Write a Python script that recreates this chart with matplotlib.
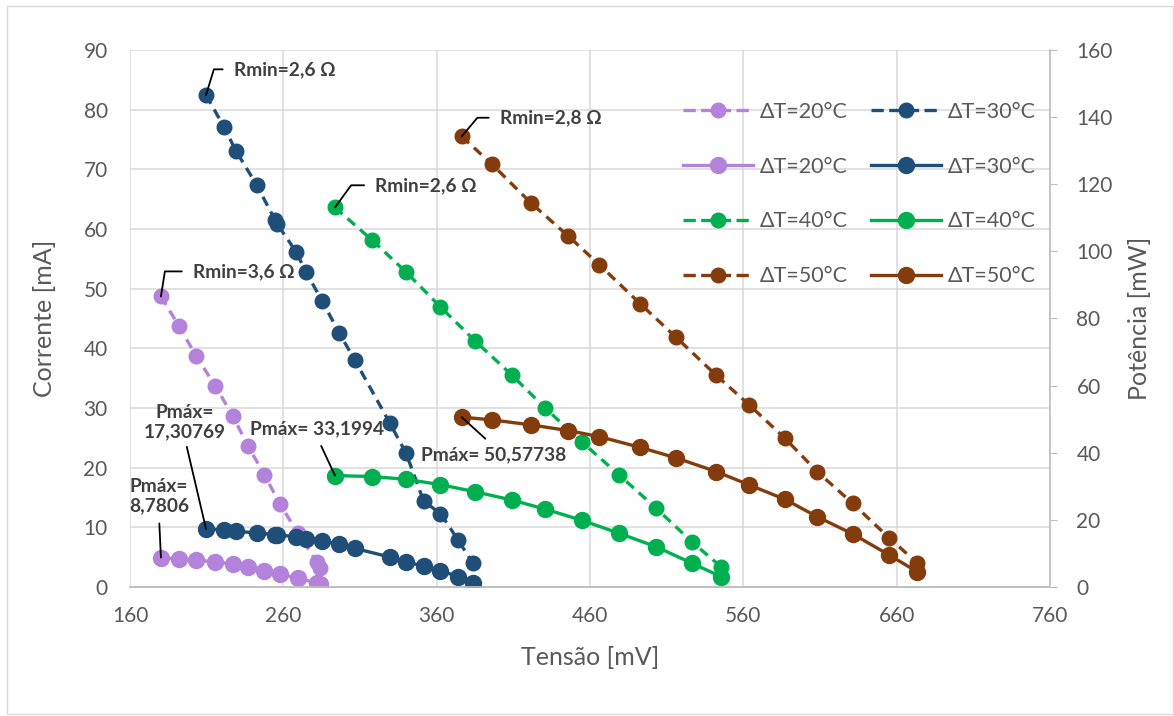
"""
Curvas corrente x tensão e potência x tensão para cada diferença de temperatura.
"""

import matplotlib.pyplot as plt
from matplotlib.lines import Line2D
from matplotlib.patches import Rectangle

plt.rcParams["font.family"] = ["Lato", "DejaVu Sans"]

# tensão [mV], corrente [mA], potência [mW]
v_20 = [180.2, 192.0, 203.2, 215.6, 227.0, 237.0, 247.7, 257.8, 269.6, 281.8, 284.2]
i_20 = [48.7, 43.7, 38.7, 33.7, 28.7, 23.6, 18.8, 13.9, 9.0, 4.2, 3.1]
p_20 = [8.78, 8.3, 8.0, 7.5, 6.8, 6.1, 4.9, 3.8, 2.6, 1.2, 0.9]

v_30 = [209.6, 221.3, 229.1, 242.6, 254.6, 256.1, 268.3, 274.8, 285.2, 296.6,
        306.7, 329.6, 340.1, 351.5, 362.5, 374.2, 383.5]
i_30 = [82.45, 77.1, 73.1, 67.4, 61.5, 60.8, 56.2, 52.8, 48.0, 42.5,
        38.0, 27.4, 22.4, 14.4, 12.3, 7.8, 4.0]
p_30 = [17.31, 17.0, 16.6, 16.1, 15.6, 15.5, 15.0, 14.4, 13.6, 12.8,
        11.5, 8.9, 7.4, 6.3, 4.8, 3.1, 1.3]

v_40 = [293.7, 317.6, 340.0, 362.2, 384.8, 409.1, 430.7, 454.5, 478.9, 503.1, 526.3, 545.4]
i_40 = [63.6, 58.2, 52.8, 47.0, 41.3, 35.5, 30.0, 24.35, 18.8, 13.2, 7.6, 3.4]
p_40 = [33.2, 32.9, 32.1, 30.5, 28.4, 25.9, 23.2, 19.9, 16.0, 12.0, 7.1, 3.1]

v_50 = [376.3, 395.9, 421.3, 445.9, 466.1, 492.6, 515.9, 542.2, 563.9, 587.2,
        608.3, 631.3, 655.2, 673.1]
i_50 = [75.5, 70.9, 64.4, 58.8, 54.0, 47.5, 41.9, 35.5, 30.5, 24.9,
        19.3, 14.0, 8.2, 4.1]
p_50 = [50.6, 49.8, 48.3, 46.6, 44.8, 41.6, 38.5, 34.4, 30.4, 26.1,
        20.9, 15.8, 9.5, 4.6]

series = [
    ("ΔT=20°C", v_20, i_20, p_20, "#b383db"),
    ("ΔT=30°C", v_30, i_30, p_30, "#1f4e79"),
    ("ΔT=40°C", v_40, i_40, p_40, "#00b050"),
    ("ΔT=50°C", v_50, i_50, p_50, "#843c0c"),
]

x_ticks = [160, 260, 360, 460, 560, 660, 760]
y_ticks = [0, 10, 20, 30, 40, 50, 60, 70, 80, 90]
y2_ticks = [0, 20, 40, 60, 80, 100, 120, 140, 160]

TEXT = "#595959"
LABEL = "#404040"
GRID = "#d9d9d9"

fig = plt.figure(figsize=(11.74, 7.16), dpi=100)
fig.patches.append(Rectangle((0.006, 0.003), 0.993, 0.989, transform=fig.transFigure,
                             fill=False, edgecolor=GRID, linewidth=1))
ax = fig.add_axes([0.1107, 0.1802, 0.7837, 0.75])
ax2 = ax.twinx()

dashed = {}
solid = {}
for label, v, i, p, color in series:
    dashed[label], = ax.plot(v, i, color=color, linestyle=(0, (3, 2)), linewidth=2.4,
                             marker="o", markersize=10.5, label=label)
    solid[label], = ax2.plot(v, p, color=color, linestyle="-", linewidth=2.4,
                             marker="o", markersize=11.5, label=label)

ax.set_xlim(160, 760)
ax.set_ylim(0, 90)
ax2.set_ylim(0, 160)
ax.set_xticks(x_ticks)
ax.set_yticks(y_ticks)
ax2.set_yticks(y2_ticks)

ax.grid(True, color=GRID, linewidth=1.1)
ax.set_axisbelow(True)
for a in (ax, ax2):
    for side in ("top", "left"):
        a.spines[side].set_visible(False)
    a.spines["bottom"].set_color("#bfbfbf")
    a.spines["right"].set_color("#bfbfbf")
    a.spines["bottom"].set_linewidth(1.2)
    a.spines["right"].set_linewidth(1.2)
ax.spines["right"].set_visible(False)
ax.tick_params(axis="x", length=0, labelsize=15, labelcolor=TEXT, pad=14)
ax.tick_params(axis="y", length=0, labelsize=15, labelcolor=TEXT, pad=16)
ax2.tick_params(axis="y", length=5, color="#bfbfbf", labelsize=15, labelcolor=TEXT, pad=14)

ax.set_xlabel("Tensão [mV]", fontsize=18, color=TEXT, labelpad=14)
ax.set_ylabel("Corrente [mA]", fontsize=18, color=TEXT, labelpad=20)
ax2.set_ylabel("Potência [mW]", fontsize=18, color=TEXT, labelpad=11)

# rótulos com linha de chamada
note = dict(fontsize=13.8, fontweight="bold", color=LABEL, ha="left", va="center",
            textcoords="offset points")
elbow = dict(arrowstyle="-", color="black", linewidth=1.3, relpos=(0, 0.5),
             shrinkA=6, shrinkB=0)

ax.annotate("Rmin=2,6 Ω", xy=(v_30[0], i_30[0]), xytext=(20, 18.5),
            arrowprops=dict(elbow, connectionstyle="angle,angleA=0,angleB=73,rad=0"), **note)
ax.annotate("Rmin=2,6 Ω", xy=(v_40[0], i_40[0]), xytext=(29, 16),
            arrowprops=dict(elbow, connectionstyle="angle,angleA=0,angleB=54,rad=0"), **note)
ax.annotate("Rmin=2,8 Ω", xy=(v_50[0], i_50[0]), xytext=(27.5, 13.5),
            arrowprops=dict(elbow, connectionstyle="angle,angleA=0,angleB=50,rad=0"), **note)
ax.annotate("Rmin=3,6 Ω", xy=(v_20[0], i_20[0]), xytext=(23, 18),
            arrowprops=dict(elbow, connectionstyle="angle,angleA=0,angleB=81,rad=0"), **note)

straight = dict(arrowstyle="-", color="black", linewidth=1.3, shrinkB=0)
pnote = dict(note, ha="center", linespacing=1.15)

ax2.annotate("Pmáx=\n17,30769", xy=(v_30[0], p_30[0]), xytext=(-15, 77),
             arrowprops=dict(straight, relpos=(0.5, 0), shrinkA=3), **pnote)
ax2.annotate("Pmáx=\n8,7806", xy=(v_20[0], p_20[0]), xytext=(-1.5, 44.5),
             arrowprops=dict(straight, relpos=(0.5, 0), shrinkA=5), **pnote)
ax2.annotate("Pmáx= 33,1994", xy=(v_40[0], p_40[0]), xytext=(-13, 34),
             arrowprops=dict(straight, relpos=(0.5, 0), shrinkA=5), **pnote)
ax2.annotate("Pmáx= 50,57738", xy=(v_50[0], p_50[0]), xytext=(23, -27),
             arrowprops=dict(straight, relpos=(0.5, 1), shrinkA=5), **pnote)

# legenda: Excel preenche por linha, matplotlib por coluna
order = [dashed["ΔT=20°C"], solid["ΔT=20°C"], dashed["ΔT=40°C"], dashed["ΔT=50°C"],
         dashed["ΔT=30°C"], solid["ΔT=30°C"], solid["ΔT=40°C"], solid["ΔT=50°C"]]
handles = [Line2D([], [], color=h.get_color(), linestyle=h.get_linestyle(),
                  linewidth=h.get_linewidth(), marker="o", markersize=h.get_markersize())
           for h in order]
leg = ax2.legend(handles, [h.get_label() for h in order], ncol=2, frameon=False,
                 loc="upper left", bbox_to_anchor=(0.5818, 0.858), bbox_transform=fig.transFigure,
                 fontsize=15.5, handlelength=3.25, handletextpad=0.33, columnspacing=1.05,
                 labelspacing=1.62, borderpad=0, borderaxespad=0)
for t in leg.get_texts():
    t.set_color(TEXT)

fig.savefig("out.png", dpi=100)
plt.close(fig)
